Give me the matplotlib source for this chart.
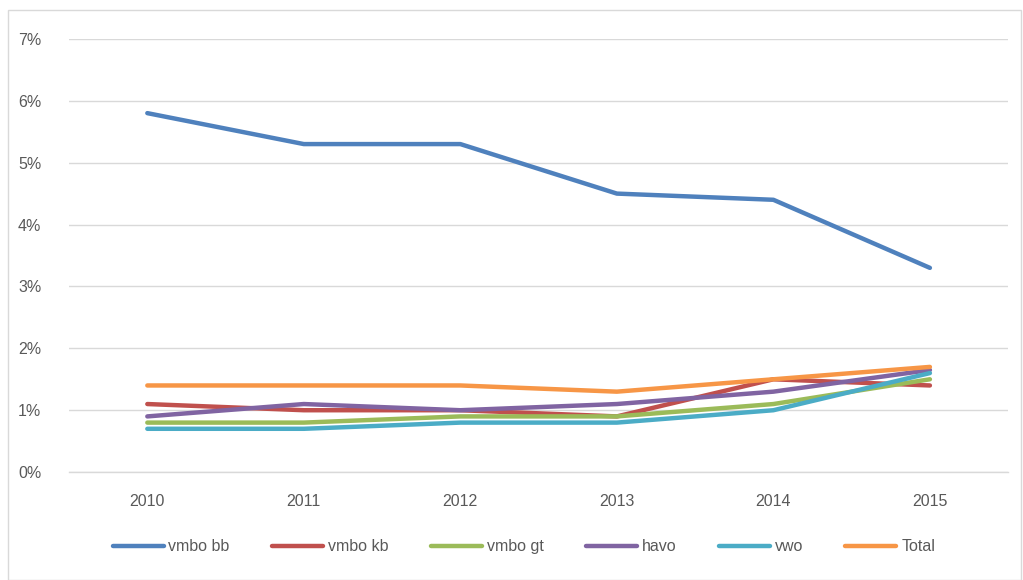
import matplotlib
matplotlib.use("Agg")
import matplotlib.pyplot as plt
from matplotlib.ticker import FuncFormatter
from matplotlib.patches import Rectangle

years = ["2010", "2011", "2012", "2013", "2014", "2015"]
vmbo_bb = [5.8, 5.3, 5.3, 4.5, 4.4, 3.3]
vmbo_kb = [1.1, 1.0, 1.0, 0.9, 1.5, 1.4]
vmbo_gt = [0.8, 0.8, 0.9, 0.9, 1.1, 1.5]
havo = [0.9, 1.1, 1.0, 1.1, 1.3, 1.65]
vwo = [0.7, 0.7, 0.8, 0.8, 1.0, 1.6]
total = [1.4, 1.4, 1.4, 1.3, 1.5, 1.7]

series = [
    ("vmbo bb", vmbo_bb, "#4F81BD"),
    ("vmbo kb", vmbo_kb, "#C0504D"),
    ("vmbo gt", vmbo_gt, "#9BBB59"),
    ("havo", havo, "#8064A2"),
    ("vwo", vwo, "#4BACC6"),
    ("Total", total, "#F79646"),
]

plt.rcParams['font.family'] = ['Liberation Sans', 'DejaVu Sans']

fig = plt.figure(figsize=(10.23, 5.80), dpi=100)
# outer chart border
fig.patches.append(Rectangle((0.008, 0.0), 0.99, 0.983, transform=fig.transFigure,
                             fill=False, edgecolor="#D9D9D9", linewidth=1))

ax = fig.add_axes([0.0675, 0.186, 0.918, 0.747])
x = list(range(len(years)))
for name, vals, col in series:
    ax.plot(x, vals, color=col, linewidth=3.2, label=name, solid_capstyle="round")

ax.set_ylim(0, 7)
ax.set_xlim(-0.5, len(years) - 0.5)
ax.set_yticks(range(0, 8))
ax.yaxis.set_major_formatter(FuncFormatter(lambda v, p: f"{int(v)}%"))
ax.set_xticks(x)
ax.set_xticklabels(years)
ax.grid(axis="y", color="#D9D9D9", linewidth=1)
ax.axhline(0, color="#D9D9D9", linewidth=1, clip_on=False, zorder=0)
ax.set_axisbelow(True)
for s in ax.spines.values():
    s.set_visible(False)
ax.tick_params(length=0, labelsize=11.5, colors="#595959")
ax.tick_params(axis="y", pad=20)
ax.tick_params(axis="x", pad=16)

fig.legend(loc="center", bbox_to_anchor=(0.512, 0.057), ncol=6, frameon=False,
           fontsize=11.5, labelcolor="#595959", handlelength=3.2, handletextpad=0.3,
           columnspacing=2.65)

fig.savefig("out.png", dpi=100)
